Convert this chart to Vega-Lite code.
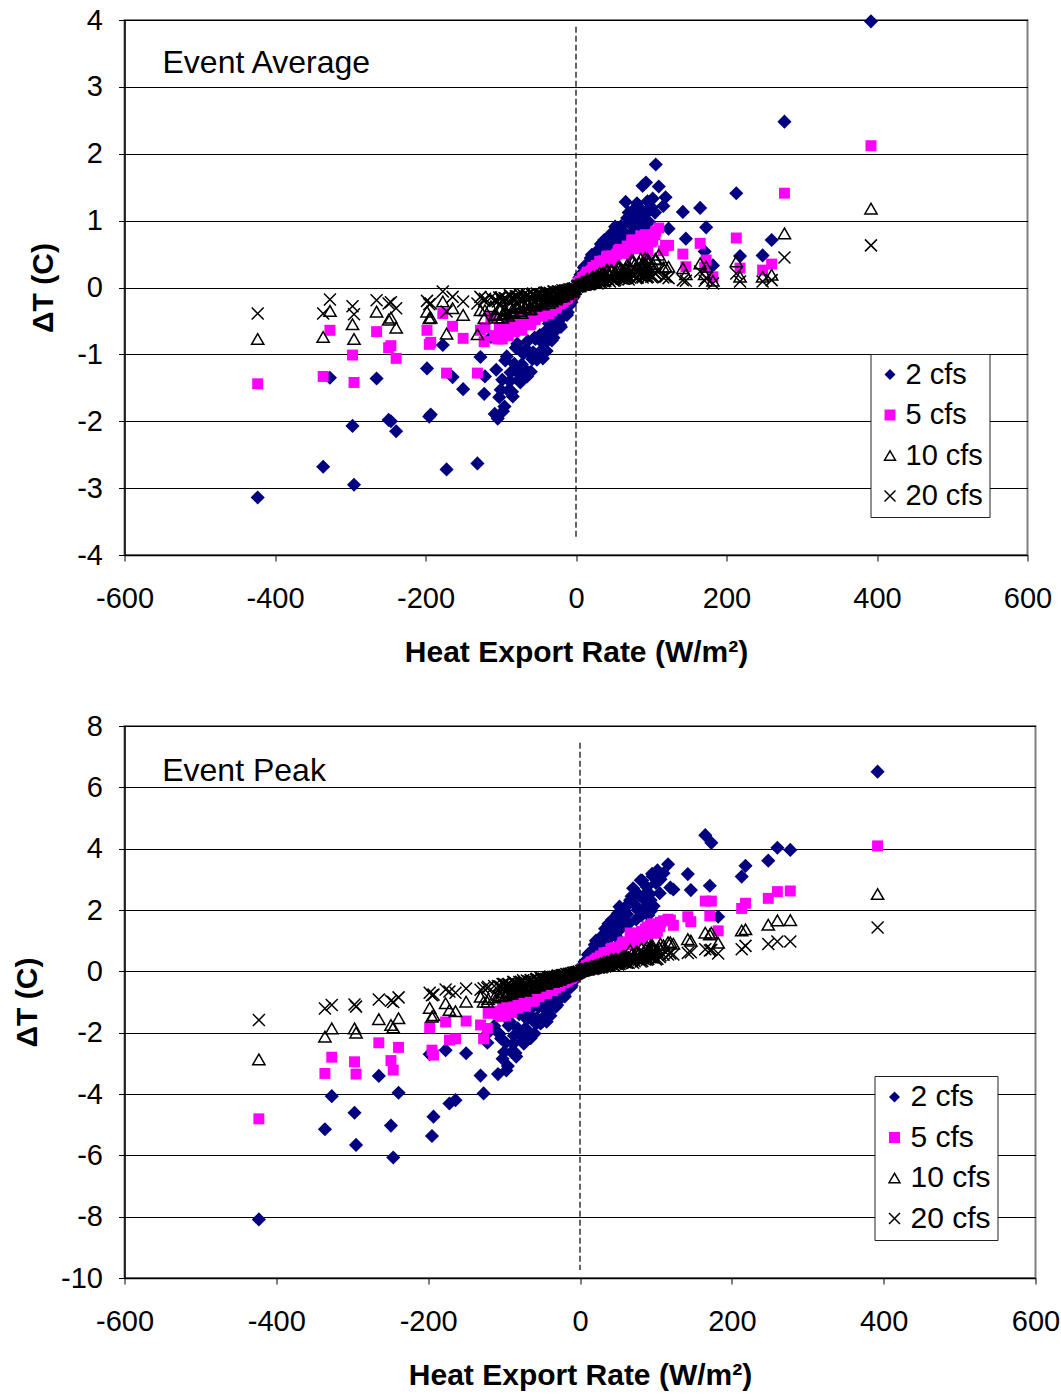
{
"$schema":"https://vega.github.io/schema/vega-lite/v6.json",
"background":"white",
"padding":{"left":11.5,"top":5,"right":0,"bottom":0},
"spacing":43,
"config":{
"font":"Liberation Sans",
"view":{"stroke":"#808080","strokeWidth":2},
"axis":{"labelFont":"Liberation Sans","titleFont":"Liberation Sans","labelFontSize":29,"labelColor":"#000","titleFontSize":30,"titleFontWeight":"bold","titleColor":"#000","domainColor":"#000","domainWidth":1.5,"tickColor":"#000","tickSize":6,"gridColor":"#000","gridWidth":1,"gridOpacity":1,"labelOverlap":false},
"axisX":{"labelPadding":23,"titlePadding":24,"labelFlush":false},
"axisY":{"labelPadding":16,"titlePadding":18},
"legend":{"labelFont":"Liberation Sans","labelColor":"#000","symbolStrokeWidth":1.5,"strokeColor":"#222","fillColor":"white","padding":6,"rowPadding":10.5,"labelOffset":1,"symbolOffset":-1,"symbolSize":120}
},
"datasets":{
"avg":[
{"s":2,"x":-423,"y":-3.14},{"s":5,"x":-423,"y":-1.44},{"s":10,"x":-423,"y":-0.77},{"s":20,"x":-423,"y":-0.39},
{"s":2,"x":-336,"y":-2.68},{"s":5,"x":-336,"y":-1.33},{"s":10,"x":-336,"y":-0.74},{"s":20,"x":-336,"y":-0.39},
{"s":2,"x":-327,"y":-1.35},{"s":5,"x":-327,"y":-0.64},{"s":10,"x":-327,"y":-0.35},{"s":20,"x":-327,"y":-0.18},
{"s":2,"x":-297,"y":-2.07},{"s":5,"x":-297,"y":-1.01},{"s":10,"x":-297,"y":-0.55},{"s":20,"x":-297,"y":-0.28},
{"s":2,"x":-295,"y":-2.95},{"s":5,"x":-295,"y":-1.42},{"s":10,"x":-295,"y":-0.77},{"s":20,"x":-295,"y":-0.40},
{"s":2,"x":-265,"y":-1.36},{"s":5,"x":-265,"y":-0.66},{"s":10,"x":-265,"y":-0.36},{"s":20,"x":-265,"y":-0.19},
{"s":2,"x":-249,"y":-1.98},{"s":5,"x":-249,"y":-0.90},{"s":10,"x":-249,"y":-0.48},{"s":20,"x":-249,"y":-0.24},
{"s":2,"x":-246,"y":-2.00},{"s":5,"x":-246,"y":-0.87},{"s":10,"x":-246,"y":-0.45},{"s":20,"x":-246,"y":-0.22},
{"s":2,"x":-239,"y":-2.15},{"s":5,"x":-239,"y":-1.06},{"s":10,"x":-239,"y":-0.60},{"s":20,"x":-239,"y":-0.31},
{"s":2,"x":-198,"y":-1.21},{"s":5,"x":-198,"y":-0.64},{"s":10,"x":-198,"y":-0.36},{"s":20,"x":-198,"y":-0.20},
{"s":2,"x":-195,"y":-1.93},{"s":5,"x":-195,"y":-0.85},{"s":10,"x":-195,"y":-0.46},{"s":20,"x":-195,"y":-0.25},
{"s":2,"x":-193,"y":-1.90},{"s":5,"x":-193,"y":-0.82},{"s":10,"x":-193,"y":-0.45},{"s":20,"x":-193,"y":-0.24},
{"s":2,"x":-177,"y":-0.86},{"s":5,"x":-177,"y":-0.39},{"s":10,"x":-177,"y":-0.21},{"s":20,"x":-177,"y":-0.06},
{"s":2,"x":-172,"y":-2.72},{"s":5,"x":-172,"y":-1.28},{"s":10,"x":-172,"y":-0.69},{"s":20,"x":-172,"y":-0.36},
{"s":2,"x":-164,"y":-1.34},{"s":5,"x":-164,"y":-0.58},{"s":10,"x":-164,"y":-0.31},{"s":20,"x":-164,"y":-0.14},
{"s":2,"x":-150,"y":-1.52},{"s":5,"x":-150,"y":-0.76},{"s":10,"x":-150,"y":-0.41},{"s":20,"x":-150,"y":-0.21},
{"s":2,"x":-131,"y":-2.63},{"s":5,"x":-131,"y":-1.28},{"s":10,"x":-131,"y":-0.70},{"s":20,"x":-131,"y":-0.24},
{"s":2,"x":-127,"y":-1.04},{"s":5,"x":-127,"y":-0.64},{"s":10,"x":-127,"y":-0.34},{"s":20,"x":-127,"y":-0.14},
{"s":2,"x":-122,"y":-1.59},{"s":5,"x":-122,"y":-0.81},{"s":10,"x":-122,"y":-0.46},{"s":20,"x":-122,"y":-0.20},
{"s":2,"x":-121,"y":-1.33},{"s":5,"x":-121,"y":-0.60},{"s":10,"x":-121,"y":-0.34},{"s":20,"x":-121,"y":-0.17},
{"s":2,"x":-113,"y":-0.74},{"s":5,"x":-113,"y":-0.45},{"s":10,"x":-113,"y":-0.28},{"s":20,"x":-113,"y":-0.15},
{"s":2,"x":-108,"y":-1.89},{"s":5,"x":-108,"y":-0.72},{"s":10,"x":-108,"y":-0.40},{"s":20,"x":-108,"y":-0.19},
{"s":2,"x":-106,"y":-1.23},{"s":5,"x":-106,"y":-0.73},{"s":10,"x":-106,"y":-0.41},{"s":20,"x":-106,"y":-0.19},
{"s":2,"x":-104,"y":-1.96},{"s":5,"x":-104,"y":-0.77},{"s":10,"x":-104,"y":-0.45},{"s":20,"x":-104,"y":-0.21},
{"s":2,"x":-102,"y":-1.64},{"s":5,"x":-102,"y":-0.61},{"s":10,"x":-102,"y":-0.32},{"s":20,"x":-102,"y":-0.15},
{"s":2,"x":-100,"y":-1.53},{"s":5,"x":-100,"y":-0.60},{"s":10,"x":-100,"y":-0.32},{"s":20,"x":-100,"y":-0.15},
{"s":2,"x":-98,"y":-1.38},{"s":5,"x":-98,"y":-0.77},{"s":10,"x":-98,"y":-0.45},{"s":20,"x":-98,"y":-0.21},
{"s":2,"x":-97,"y":-1.85},{"s":5,"x":-97,"y":-0.69},{"s":10,"x":-97,"y":-0.39},{"s":20,"x":-97,"y":-0.18},
{"s":2,"x":-95,"y":-1.78},{"s":5,"x":-95,"y":-0.63},{"s":10,"x":-95,"y":-0.35},{"s":20,"x":-95,"y":-0.16},
{"s":2,"x":-94,"y":-1.09},{"s":5,"x":-94,"y":-0.63},{"s":10,"x":-94,"y":-0.34},{"s":20,"x":-94,"y":-0.16},
{"s":2,"x":-92,"y":-1.03},{"s":5,"x":-92,"y":-0.69},{"s":10,"x":-92,"y":-0.39},{"s":20,"x":-92,"y":-0.18},
{"s":2,"x":-90,"y":-1.54},{"s":5,"x":-90,"y":-0.72},{"s":10,"x":-90,"y":-0.42},{"s":20,"x":-90,"y":-0.20},
{"s":2,"x":-88,"y":-1.40},{"s":5,"x":-88,"y":-0.53},{"s":10,"x":-88,"y":-0.27},{"s":20,"x":-88,"y":-0.12},
{"s":2,"x":-87,"y":-1.27},{"s":5,"x":-87,"y":-0.52},{"s":10,"x":-87,"y":-0.27},{"s":20,"x":-87,"y":-0.12},
{"s":2,"x":-85,"y":-1.56},{"s":5,"x":-85,"y":-0.60},{"s":10,"x":-85,"y":-0.34},{"s":20,"x":-85,"y":-0.16},
{"s":2,"x":-84,"y":-1.63},{"s":5,"x":-84,"y":-0.64},{"s":10,"x":-84,"y":-0.37},{"s":20,"x":-84,"y":-0.17},
{"s":2,"x":-82,"y":-1.14},{"s":5,"x":-82,"y":-0.66},{"s":10,"x":-82,"y":-0.38},{"s":20,"x":-82,"y":-0.18},
{"s":2,"x":-80,"y":-0.90},{"s":5,"x":-80,"y":-0.54},{"s":10,"x":-80,"y":-0.29},{"s":20,"x":-80,"y":-0.13},
{"s":2,"x":-78,"y":-0.84},{"s":5,"x":-78,"y":-0.53},{"s":10,"x":-78,"y":-0.28},{"s":20,"x":-78,"y":-0.13},
{"s":2,"x":-77,"y":-1.27},{"s":5,"x":-77,"y":-0.56},{"s":10,"x":-77,"y":-0.31},{"s":20,"x":-77,"y":-0.15},
{"s":2,"x":-75,"y":-1.36},{"s":5,"x":-75,"y":-0.45},{"s":10,"x":-75,"y":-0.23},{"s":20,"x":-75,"y":-0.10},
{"s":2,"x":-74,"y":-1.42},{"s":5,"x":-74,"y":-0.61},{"s":10,"x":-74,"y":-0.35},{"s":20,"x":-74,"y":-0.17},
{"s":2,"x":-72,"y":-1.15},{"s":5,"x":-72,"y":-0.64},{"s":10,"x":-72,"y":-0.38},{"s":20,"x":-72,"y":-0.18},
{"s":2,"x":-70,"y":-0.99},{"s":5,"x":-70,"y":-0.47},{"s":10,"x":-70,"y":-0.25},{"s":20,"x":-70,"y":-0.11},
{"s":2,"x":-68,"y":-0.94},{"s":5,"x":-68,"y":-0.54},{"s":10,"x":-68,"y":-0.30},{"s":20,"x":-68,"y":-0.14},
{"s":2,"x":-67,"y":-1.23},{"s":5,"x":-67,"y":-0.53},{"s":10,"x":-67,"y":-0.30},{"s":20,"x":-67,"y":-0.14},
{"s":2,"x":-65,"y":-1.33},{"s":5,"x":-65,"y":-0.45},{"s":10,"x":-65,"y":-0.23},{"s":20,"x":-65,"y":-0.11},
{"s":2,"x":-64,"y":-0.80},{"s":5,"x":-64,"y":-0.48},{"s":10,"x":-64,"y":-0.26},{"s":20,"x":-64,"y":-0.12},
{"s":2,"x":-62,"y":-0.97},{"s":5,"x":-62,"y":-0.56},{"s":10,"x":-62,"y":-0.33},{"s":20,"x":-62,"y":-0.15},
{"s":2,"x":-60,"y":-1.26},{"s":5,"x":-60,"y":-0.55},{"s":10,"x":-60,"y":-0.32},{"s":20,"x":-60,"y":-0.15},
{"s":2,"x":-58,"y":-1.07},{"s":5,"x":-58,"y":-0.44},{"s":10,"x":-58,"y":-0.24},{"s":20,"x":-58,"y":-0.11},
{"s":2,"x":-57,"y":-0.97},{"s":5,"x":-57,"y":-0.39},{"s":10,"x":-57,"y":-0.20},{"s":20,"x":-57,"y":-0.09},
{"s":2,"x":-55,"y":-0.75},{"s":5,"x":-55,"y":-0.48},{"s":10,"x":-55,"y":-0.27},{"s":20,"x":-55,"y":-0.13},
{"s":2,"x":-54,"y":-0.77},{"s":5,"x":-54,"y":-0.47},{"s":10,"x":-54,"y":-0.27},{"s":20,"x":-54,"y":-0.13},
{"s":2,"x":-52,"y":-1.08},{"s":5,"x":-52,"y":-0.37},{"s":10,"x":-52,"y":-0.19},{"s":20,"x":-52,"y":-0.09},
{"s":2,"x":-50,"y":-1.05},{"s":5,"x":-50,"y":-0.39},{"s":10,"x":-50,"y":-0.21},{"s":20,"x":-50,"y":-0.10},
{"s":2,"x":-48,"y":-0.71},{"s":5,"x":-48,"y":-0.41},{"s":10,"x":-48,"y":-0.23},{"s":20,"x":-48,"y":-0.11},
{"s":2,"x":-47,"y":-0.80},{"s":5,"x":-47,"y":-0.40},{"s":10,"x":-47,"y":-0.22},{"s":20,"x":-47,"y":-0.10},
{"s":2,"x":-45,"y":-0.93},{"s":5,"x":-45,"y":-0.43},{"s":10,"x":-45,"y":-0.25},{"s":20,"x":-45,"y":-0.12},
{"s":2,"x":-44,"y":-1.06},{"s":5,"x":-44,"y":-0.42},{"s":10,"x":-44,"y":-0.25},{"s":20,"x":-44,"y":-0.12},
{"s":2,"x":-42,"y":-0.76},{"s":5,"x":-42,"y":-0.34},{"s":10,"x":-42,"y":-0.18},{"s":20,"x":-42,"y":-0.08},
{"s":2,"x":-41,"y":-0.66},{"s":5,"x":-41,"y":-0.32},{"s":10,"x":-41,"y":-0.17},{"s":20,"x":-41,"y":-0.08},
{"s":2,"x":-39,"y":-0.95},{"s":5,"x":-39,"y":-0.29},{"s":10,"x":-39,"y":-0.14},{"s":20,"x":-39,"y":-0.07},
{"s":2,"x":-38,"y":-0.80},{"s":5,"x":-38,"y":-0.36},{"s":10,"x":-38,"y":-0.20},{"s":20,"x":-38,"y":-0.09},
{"s":2,"x":-36,"y":-0.54},{"s":5,"x":-36,"y":-0.39},{"s":10,"x":-36,"y":-0.23},{"s":20,"x":-36,"y":-0.11},
{"s":2,"x":-35,"y":-0.50},{"s":5,"x":-35,"y":-0.31},{"s":10,"x":-35,"y":-0.17},{"s":20,"x":-35,"y":-0.08},
{"s":2,"x":-33,"y":-0.71},{"s":5,"x":-33,"y":-0.32},{"s":10,"x":-33,"y":-0.18},{"s":20,"x":-33,"y":-0.09},
{"s":2,"x":-32,"y":-0.79},{"s":5,"x":-32,"y":-0.35},{"s":10,"x":-32,"y":-0.21},{"s":20,"x":-32,"y":-0.10},
{"s":2,"x":-30,"y":-0.75},{"s":5,"x":-30,"y":-0.26},{"s":10,"x":-30,"y":-0.14},{"s":20,"x":-30,"y":-0.06},
{"s":2,"x":-29,"y":-0.57},{"s":5,"x":-29,"y":-0.24},{"s":10,"x":-29,"y":-0.13},{"s":20,"x":-29,"y":-0.06},
{"s":2,"x":-27,"y":-0.52},{"s":5,"x":-27,"y":-0.31},{"s":10,"x":-27,"y":-0.18},{"s":20,"x":-27,"y":-0.09},
{"s":2,"x":-26,"y":-0.63},{"s":5,"x":-26,"y":-0.28},{"s":10,"x":-26,"y":-0.16},{"s":20,"x":-26,"y":-0.08},
{"s":2,"x":-24,"y":-0.37},{"s":5,"x":-24,"y":-0.24},{"s":10,"x":-24,"y":-0.13},{"s":20,"x":-24,"y":-0.06},
{"s":2,"x":-23,"y":-0.42},{"s":5,"x":-23,"y":-0.23},{"s":10,"x":-23,"y":-0.12},{"s":20,"x":-23,"y":-0.06},
{"s":2,"x":-21,"y":-0.56},{"s":5,"x":-21,"y":-0.24},{"s":10,"x":-21,"y":-0.14},{"s":20,"x":-21,"y":-0.07},
{"s":2,"x":-20,"y":-0.59},{"s":5,"x":-20,"y":-0.22},{"s":10,"x":-20,"y":-0.12},{"s":20,"x":-20,"y":-0.06},
{"s":2,"x":-18,"y":-0.44},{"s":5,"x":-18,"y":-0.17},{"s":10,"x":-18,"y":-0.09},{"s":20,"x":-18,"y":-0.04},
{"s":2,"x":-17,"y":-0.42},{"s":5,"x":-17,"y":-0.22},{"s":10,"x":-17,"y":-0.13},{"s":20,"x":-17,"y":-0.06},
{"s":2,"x":-15,"y":-0.33},{"s":5,"x":-15,"y":-0.18},{"s":10,"x":-15,"y":-0.10},{"s":20,"x":-15,"y":-0.05},
{"s":2,"x":-14,"y":-0.32},{"s":5,"x":-14,"y":-0.15},{"s":10,"x":-14,"y":-0.08},{"s":20,"x":-14,"y":-0.04},
{"s":2,"x":-12,"y":-0.41},{"s":5,"x":-12,"y":-0.17},{"s":10,"x":-12,"y":-0.10},{"s":20,"x":-12,"y":-0.05},
{"s":2,"x":-11,"y":-0.37},{"s":5,"x":-11,"y":-0.15},{"s":10,"x":-11,"y":-0.09},{"s":20,"x":-11,"y":-0.04},
{"s":2,"x":-9,"y":-0.25},{"s":5,"x":-9,"y":-0.12},{"s":10,"x":-9,"y":-0.06},{"s":20,"x":-9,"y":-0.03},
{"s":2,"x":-8,"y":-0.26},{"s":5,"x":-8,"y":-0.11},{"s":10,"x":-8,"y":-0.06},{"s":20,"x":-8,"y":-0.03},
{"s":2,"x":-6,"y":-0.22},{"s":5,"x":-6,"y":-0.10},{"s":10,"x":-6,"y":-0.06},{"s":20,"x":-6,"y":-0.03},
{"s":2,"x":-5,"y":-0.17},{"s":5,"x":-5,"y":-0.10},{"s":10,"x":-5,"y":-0.06},{"s":20,"x":-5,"y":-0.03},
{"s":2,"x":-4,"y":-0.12},{"s":5,"x":-4,"y":-0.06},{"s":10,"x":-4,"y":-0.03},{"s":20,"x":-4,"y":-0.02},
{"s":2,"x":-3,"y":-0.14},{"s":5,"x":-3,"y":-0.06},{"s":10,"x":-3,"y":-0.03},{"s":20,"x":-3,"y":-0.02},
{"s":2,"x":-1.5,"y":-0.09},{"s":5,"x":-1.5,"y":-0.04},{"s":10,"x":-1.5,"y":-0.02},{"s":20,"x":-1.5,"y":-0.01},
{"s":2,"x":1.5,"y":0.05},{"s":5,"x":1.5,"y":0.04},{"s":10,"x":1.5,"y":0.02},{"s":20,"x":1.5,"y":0.01},
{"s":2,"x":3,"y":0.11},{"s":5,"x":3,"y":0.07},{"s":10,"x":3,"y":0.04},{"s":20,"x":3,"y":0.02},
{"s":2,"x":4.5,"y":0.15},{"s":5,"x":4.5,"y":0.08},{"s":10,"x":4.5,"y":0.04},{"s":20,"x":4.5,"y":0.02},
{"s":2,"x":6,"y":0.19},{"s":5,"x":6,"y":0.10},{"s":10,"x":6,"y":0.05},{"s":20,"x":6,"y":0.02},
{"s":2,"x":7.5,"y":0.19},{"s":5,"x":7.5,"y":0.14},{"s":10,"x":7.5,"y":0.08},{"s":20,"x":7.5,"y":0.04},
{"s":2,"x":9,"y":0.21},{"s":5,"x":9,"y":0.15},{"s":10,"x":9,"y":0.08},{"s":20,"x":9,"y":0.04},
{"s":2,"x":10.5,"y":0.30},{"s":5,"x":10.5,"y":0.15},{"s":10,"x":10.5,"y":0.08},{"s":20,"x":10.5,"y":0.04},
{"s":2,"x":12,"y":0.32},{"s":5,"x":12,"y":0.17},{"s":10,"x":12,"y":0.09},{"s":20,"x":12,"y":0.04},
{"s":2,"x":13.5,"y":0.25},{"s":5,"x":13.5,"y":0.20},{"s":10,"x":13.5,"y":0.11},{"s":20,"x":13.5,"y":0.05},
{"s":2,"x":15,"y":0.28},{"s":5,"x":15,"y":0.23},{"s":10,"x":15,"y":0.13},{"s":20,"x":15,"y":0.06},
{"s":2,"x":16.5,"y":0.36},{"s":5,"x":16.5,"y":0.19},{"s":10,"x":16.5,"y":0.09},{"s":20,"x":16.5,"y":0.05},
{"s":2,"x":18,"y":0.38},{"s":5,"x":18,"y":0.20},{"s":10,"x":18,"y":0.10},{"s":20,"x":18,"y":0.05},
{"s":2,"x":19.5,"y":0.44},{"s":5,"x":19.5,"y":0.24},{"s":10,"x":19.5,"y":0.13},{"s":20,"x":19.5,"y":0.06},
{"s":2,"x":21,"y":0.49},{"s":5,"x":21,"y":0.26},{"s":10,"x":21,"y":0.14},{"s":20,"x":21,"y":0.07},
{"s":2,"x":22.5,"y":0.40},{"s":5,"x":22.5,"y":0.30},{"s":10,"x":22.5,"y":0.16},{"s":20,"x":22.5,"y":0.08},
{"s":2,"x":24,"y":0.43},{"s":5,"x":24,"y":0.27},{"s":10,"x":24,"y":0.13},{"s":20,"x":24,"y":0.07},
{"s":2,"x":25.5,"y":0.37},{"s":5,"x":25.5,"y":0.28},{"s":10,"x":25.5,"y":0.14},{"s":20,"x":25.5,"y":0.07},
{"s":2,"x":27,"y":0.53},{"s":5,"x":27,"y":0.33},{"s":10,"x":27,"y":0.18},{"s":20,"x":27,"y":0.09},
{"s":2,"x":28.5,"y":0.55},{"s":5,"x":28.5,"y":0.27},{"s":10,"x":28.5,"y":0.12},{"s":20,"x":28.5,"y":0.06},
{"s":2,"x":30,"y":0.43},{"s":5,"x":30,"y":0.33},{"s":10,"x":30,"y":0.17},{"s":20,"x":30,"y":0.09},
{"s":2,"x":31.5,"y":0.54},{"s":5,"x":31.5,"y":0.39},{"s":10,"x":31.5,"y":0.22},{"s":20,"x":31.5,"y":0.11},
{"s":2,"x":33,"y":0.65},{"s":5,"x":33,"y":0.32},{"s":10,"x":33,"y":0.16},{"s":20,"x":33,"y":0.08},
{"s":2,"x":34.5,"y":0.51},{"s":5,"x":34.5,"y":0.37},{"s":10,"x":34.5,"y":0.20},{"s":20,"x":34.5,"y":0.10},
{"s":2,"x":36,"y":0.59},{"s":5,"x":36,"y":0.40},{"s":10,"x":36,"y":0.22},{"s":20,"x":36,"y":0.11},
{"s":2,"x":37.5,"y":0.71},{"s":5,"x":37.5,"y":0.35},{"s":10,"x":37.5,"y":0.17},{"s":20,"x":37.5,"y":0.09},
{"s":2,"x":39,"y":0.56},{"s":5,"x":39,"y":0.38},{"s":10,"x":39,"y":0.20},{"s":20,"x":39,"y":0.10},
{"s":2,"x":40.5,"y":0.62},{"s":5,"x":40.5,"y":0.46},{"s":10,"x":40.5,"y":0.26},{"s":20,"x":40.5,"y":0.13},
{"s":2,"x":42,"y":0.75},{"s":5,"x":42,"y":0.47},{"s":10,"x":42,"y":0.26},{"s":20,"x":42,"y":0.13},
{"s":2,"x":43.5,"y":0.71},{"s":5,"x":43.5,"y":0.41},{"s":10,"x":43.5,"y":0.21},{"s":20,"x":43.5,"y":0.11},
{"s":2,"x":45,"y":0.72},{"s":5,"x":45,"y":0.39},{"s":10,"x":45,"y":0.18},{"s":20,"x":45,"y":0.09},
{"s":2,"x":46.5,"y":0.60},{"s":5,"x":46.5,"y":0.47},{"s":10,"x":46.5,"y":0.26},{"s":20,"x":46.5,"y":0.13},
{"s":2,"x":48,"y":0.59},{"s":5,"x":48,"y":0.47},{"s":10,"x":48,"y":0.25},{"s":20,"x":48,"y":0.13},
{"s":2,"x":50,"y":0.84},{"s":5,"x":50,"y":0.42},{"s":10,"x":50,"y":0.20},{"s":20,"x":50,"y":0.10},
{"s":2,"x":52,"y":0.91},{"s":5,"x":52,"y":0.46},{"s":10,"x":52,"y":0.23},{"s":20,"x":52,"y":0.11},
{"s":2,"x":54,"y":0.68},{"s":5,"x":54,"y":0.50},{"s":10,"x":54,"y":0.26},{"s":20,"x":54,"y":0.13},
{"s":2,"x":56,"y":0.77},{"s":5,"x":56,"y":0.55},{"s":10,"x":56,"y":0.31},{"s":20,"x":56,"y":0.15},
{"s":2,"x":58,"y":0.89},{"s":5,"x":58,"y":0.57},{"s":10,"x":58,"y":0.31},{"s":20,"x":58,"y":0.16},
{"s":2,"x":60,"y":0.92},{"s":5,"x":60,"y":0.54},{"s":10,"x":60,"y":0.28},{"s":20,"x":60,"y":0.14},
{"s":2,"x":62,"y":0.85},{"s":5,"x":62,"y":0.52},{"s":10,"x":62,"y":0.26},{"s":20,"x":62,"y":0.13},
{"s":2,"x":64,"y":0.75},{"s":5,"x":64,"y":0.51},{"s":10,"x":64,"y":0.25},{"s":20,"x":64,"y":0.13},
{"s":2,"x":68,"y":1.04},{"s":5,"x":68,"y":0.62},{"s":10,"x":68,"y":0.34},{"s":20,"x":68,"y":0.17},
{"s":2,"x":70,"y":1.12},{"s":5,"x":70,"y":0.51},{"s":10,"x":70,"y":0.24},{"s":20,"x":70,"y":0.12},
{"s":2,"x":72,"y":0.96},{"s":5,"x":72,"y":0.59},{"s":10,"x":72,"y":0.30},{"s":20,"x":72,"y":0.15},
{"s":2,"x":74,"y":0.81},{"s":5,"x":74,"y":0.71},{"s":10,"x":74,"y":0.41},{"s":20,"x":74,"y":0.20},
{"s":2,"x":76,"y":0.91},{"s":5,"x":76,"y":0.71},{"s":10,"x":76,"y":0.40},{"s":20,"x":76,"y":0.20},
{"s":2,"x":78,"y":1.06},{"s":5,"x":78,"y":0.66},{"s":10,"x":78,"y":0.35},{"s":20,"x":78,"y":0.18},
{"s":2,"x":80,"y":1.20},{"s":5,"x":80,"y":0.58},{"s":10,"x":80,"y":0.28},{"s":20,"x":80,"y":0.14},
{"s":2,"x":82,"y":1.20},{"s":5,"x":82,"y":0.61},{"s":10,"x":82,"y":0.30},{"s":20,"x":82,"y":0.15},
{"s":2,"x":84,"y":0.93},{"s":5,"x":84,"y":0.70},{"s":10,"x":84,"y":0.37},{"s":20,"x":84,"y":0.19},
{"s":2,"x":86,"y":1.02},{"s":5,"x":86,"y":0.77},{"s":10,"x":86,"y":0.43},{"s":20,"x":86,"y":0.22},
{"s":2,"x":88,"y":1.15},{"s":5,"x":88,"y":0.66},{"s":10,"x":88,"y":0.33},{"s":20,"x":88,"y":0.17},
{"s":2,"x":90,"y":0.89},{"s":5,"x":90,"y":0.69},{"s":10,"x":90,"y":0.35},{"s":20,"x":90,"y":0.18},
{"s":2,"x":92,"y":1.09},{"s":5,"x":92,"y":0.79},{"s":10,"x":92,"y":0.44},{"s":20,"x":92,"y":0.22},
{"s":2,"x":95,"y":1.29},{"s":5,"x":95,"y":0.78},{"s":10,"x":95,"y":0.43},{"s":20,"x":95,"y":0.21},
{"s":2,"x":97,"y":0.98},{"s":5,"x":97,"y":0.75},{"s":10,"x":97,"y":0.39},{"s":20,"x":97,"y":0.20},
{"s":2,"x":100,"y":1.20},{"s":5,"x":100,"y":0.68},{"s":10,"x":100,"y":0.32},{"s":20,"x":100,"y":0.16},
{"s":2,"x":102,"y":1.33},{"s":5,"x":102,"y":0.71},{"s":10,"x":102,"y":0.35},{"s":20,"x":102,"y":0.17},
{"s":2,"x":105,"y":1.12},{"s":5,"x":105,"y":0.79},{"s":10,"x":105,"y":0.42},{"s":20,"x":105,"y":0.21},
{"s":2,"x":110,"y":1.51},{"s":5,"x":110,"y":0.89},{"s":10,"x":110,"y":0.49},{"s":20,"x":110,"y":0.25},
{"s":2,"x":94,"y":0.96},{"s":5,"x":94,"y":0.50},{"s":10,"x":94,"y":0.28},{"s":20,"x":94,"y":0.15},
{"s":2,"x":66,"y":1.28},{"s":5,"x":66,"y":0.56},{"s":10,"x":66,"y":0.28},{"s":20,"x":66,"y":0.14},
{"s":2,"x":81,"y":1.26},{"s":5,"x":81,"y":0.61},{"s":10,"x":81,"y":0.30},{"s":20,"x":81,"y":0.15},
{"s":2,"x":88.5,"y":1.52},{"s":5,"x":88.5,"y":0.60},{"s":10,"x":88.5,"y":0.30},{"s":20,"x":88.5,"y":0.15},
{"s":2,"x":93,"y":1.57},{"s":5,"x":93,"y":0.74},{"s":10,"x":93,"y":0.35},{"s":20,"x":93,"y":0.18},
{"s":2,"x":95.5,"y":1.16},{"s":5,"x":95.5,"y":0.55},{"s":10,"x":95.5,"y":0.30},{"s":20,"x":95.5,"y":0.16},
{"s":2,"x":106,"y":1.84},{"s":5,"x":106,"y":0.84},{"s":10,"x":106,"y":0.43},{"s":20,"x":106,"y":0.21},
{"s":2,"x":116,"y":1.22},{"s":5,"x":116,"y":0.55},{"s":10,"x":116,"y":0.30},{"s":20,"x":116,"y":0.15},
{"s":2,"x":119,"y":1.35},{"s":5,"x":119,"y":0.63},{"s":10,"x":119,"y":0.31},{"s":20,"x":119,"y":0.16},
{"s":2,"x":123,"y":0.88},{"s":5,"x":123,"y":0.63},{"s":10,"x":123,"y":0.31},{"s":20,"x":123,"y":0.14},
{"s":2,"x":142,"y":1.13},{"s":5,"x":142,"y":0.50},{"s":10,"x":142,"y":0.29},{"s":20,"x":142,"y":0.11},
{"s":2,"x":146,"y":0.73},{"s":5,"x":146,"y":0.31},{"s":10,"x":146,"y":0.20},{"s":20,"x":146,"y":0.10},
{"s":2,"x":165,"y":1.19},{"s":5,"x":165,"y":0.66},{"s":10,"x":165,"y":0.36},{"s":20,"x":165,"y":0.24},
{"s":2,"x":171,"y":0.54},{"s":5,"x":171,"y":0.30},{"s":10,"x":171,"y":0.20},{"s":20,"x":171,"y":0.10},
{"s":2,"x":173,"y":0.90},{"s":5,"x":173,"y":0.41},{"s":10,"x":173,"y":0.31},{"s":20,"x":173,"y":0.14},
{"s":2,"x":182,"y":0.33},{"s":5,"x":182,"y":0.16},{"s":10,"x":182,"y":0.10},{"s":20,"x":182,"y":0.06},
{"s":2,"x":213,"y":1.41},{"s":5,"x":213,"y":0.74},{"s":10,"x":213,"y":0.39},{"s":20,"x":213,"y":0.21},
{"s":2,"x":218,"y":0.47},{"s":5,"x":218,"y":0.29},{"s":10,"x":218,"y":0.16},{"s":20,"x":218,"y":0.09},
{"s":2,"x":248,"y":0.48},{"s":5,"x":248,"y":0.26},{"s":10,"x":248,"y":0.16},{"s":20,"x":248,"y":0.09},
{"s":2,"x":260,"y":0.71},{"s":5,"x":260,"y":0.35},{"s":10,"x":260,"y":0.19},{"s":20,"x":260,"y":0.11},
{"s":2,"x":277,"y":2.48},{"s":5,"x":277,"y":1.41},{"s":10,"x":277,"y":0.81},{"s":20,"x":277,"y":0.45},
{"s":2,"x":392,"y":3.98},{"s":5,"x":392,"y":2.12},{"s":10,"x":392,"y":1.18},{"s":20,"x":392,"y":0.63}
],
"peak":[
{"s":2,"x":-423,"y":-8.09},{"s":5,"x":-423,"y":-4.81},{"s":10,"x":-423,"y":-2.87},{"s":20,"x":-423,"y":-1.59},
{"s":2,"x":-336,"y":-5.15},{"s":5,"x":-336,"y":-3.33},{"s":10,"x":-336,"y":-2.13},{"s":20,"x":-336,"y":-1.21},
{"s":2,"x":-327,"y":-4.07},{"s":5,"x":-327,"y":-2.80},{"s":10,"x":-327,"y":-1.86},{"s":20,"x":-327,"y":-1.10},
{"s":2,"x":-297,"y":-4.61},{"s":5,"x":-297,"y":-2.95},{"s":10,"x":-297,"y":-1.86},{"s":20,"x":-297,"y":-1.08},
{"s":2,"x":-295,"y":-5.66},{"s":5,"x":-295,"y":-3.35},{"s":10,"x":-295,"y":-2.00},{"s":20,"x":-295,"y":-1.15},
{"s":2,"x":-265,"y":-3.41},{"s":5,"x":-265,"y":-2.33},{"s":10,"x":-265,"y":-1.56},{"s":20,"x":-265,"y":-0.92},
{"s":2,"x":-249,"y":-5.03},{"s":5,"x":-249,"y":-2.91},{"s":10,"x":-249,"y":-1.75},{"s":20,"x":-249,"y":-0.96},
{"s":2,"x":-246,"y":-6.07},{"s":5,"x":-246,"y":-3.22},{"s":10,"x":-246,"y":-1.83},{"s":20,"x":-246,"y":-1.00},
{"s":2,"x":-239,"y":-3.96},{"s":5,"x":-239,"y":-2.48},{"s":10,"x":-239,"y":-1.53},{"s":20,"x":-239,"y":-0.85},
{"s":2,"x":-198,"y":-2.70},{"s":5,"x":-198,"y":-1.83},{"s":10,"x":-198,"y":-1.19},{"s":20,"x":-198,"y":-0.70},
{"s":2,"x":-195,"y":-5.37},{"s":5,"x":-195,"y":-2.57},{"s":10,"x":-195,"y":-1.48},{"s":20,"x":-195,"y":-0.78},
{"s":2,"x":-193,"y":-4.74},{"s":5,"x":-193,"y":-2.73},{"s":10,"x":-193,"y":-1.43},{"s":20,"x":-193,"y":-0.76},
{"s":2,"x":-177,"y":-2.57},{"s":5,"x":-177,"y":-1.65},{"s":10,"x":-177,"y":-1.04},{"s":20,"x":-177,"y":-0.59},
{"s":2,"x":-172,"y":-4.31},{"s":5,"x":-172,"y":-2.24},{"s":10,"x":-172,"y":-1.26},{"s":20,"x":-172,"y":-0.66},
{"s":2,"x":-164,"y":-4.20},{"s":5,"x":-164,"y":-2.20},{"s":10,"x":-164,"y":-1.30},{"s":20,"x":-164,"y":-0.70},
{"s":2,"x":-150,"y":-2.67},{"s":5,"x":-150,"y":-1.62},{"s":10,"x":-150,"y":-0.99},{"s":20,"x":-150,"y":-0.56},
{"s":2,"x":-131,"y":-3.40},{"s":5,"x":-131,"y":-1.75},{"s":10,"x":-131,"y":-0.83},{"s":20,"x":-131,"y":-0.60},
{"s":2,"x":-127,"y":-3.98},{"s":5,"x":-127,"y":-2.20},{"s":10,"x":-127,"y":-0.99},{"s":20,"x":-127,"y":-0.55},
{"s":2,"x":-122,"y":-2.33},{"s":5,"x":-122,"y":-1.86},{"s":10,"x":-122,"y":-1.00},{"s":20,"x":-122,"y":-0.55},
{"s":2,"x":-121,"y":-2.00},{"s":5,"x":-121,"y":-1.37},{"s":10,"x":-121,"y":-0.90},{"s":20,"x":-121,"y":-0.50},
{"s":2,"x":-113,"y":-1.78},{"s":5,"x":-113,"y":-1.30},{"s":10,"x":-113,"y":-0.85},{"s":20,"x":-113,"y":-0.48},
{"s":2,"x":-108,"y":-3.35},{"s":5,"x":-108,"y":-1.39},{"s":10,"x":-108,"y":-0.78},{"s":20,"x":-108,"y":-0.48},
{"s":2,"x":-106,"y":-2.04},{"s":5,"x":-106,"y":-1.41},{"s":10,"x":-106,"y":-0.79},{"s":20,"x":-106,"y":-0.49},
{"s":2,"x":-104,"y":-2.19},{"s":5,"x":-104,"y":-1.47},{"s":10,"x":-104,"y":-0.81},{"s":20,"x":-104,"y":-0.51},
{"s":2,"x":-102,"y":-2.85},{"s":5,"x":-102,"y":-1.20},{"s":10,"x":-102,"y":-0.68},{"s":20,"x":-102,"y":-0.41},
{"s":2,"x":-100,"y":-2.63},{"s":5,"x":-100,"y":-1.18},{"s":10,"x":-100,"y":-0.67},{"s":20,"x":-100,"y":-0.41},
{"s":2,"x":-98,"y":-2.33},{"s":5,"x":-98,"y":-1.44},{"s":10,"x":-98,"y":-0.79},{"s":20,"x":-98,"y":-0.50},
{"s":2,"x":-97,"y":-3.23},{"s":5,"x":-97,"y":-1.31},{"s":10,"x":-97,"y":-0.73},{"s":20,"x":-97,"y":-0.45},
{"s":2,"x":-95,"y":-3.09},{"s":5,"x":-95,"y":-1.21},{"s":10,"x":-95,"y":-0.68},{"s":20,"x":-95,"y":-0.42},
{"s":2,"x":-94,"y":-1.77},{"s":5,"x":-94,"y":-1.20},{"s":10,"x":-94,"y":-0.67},{"s":20,"x":-94,"y":-0.41},
{"s":2,"x":-92,"y":-1.65},{"s":5,"x":-92,"y":-1.29},{"s":10,"x":-92,"y":-0.71},{"s":20,"x":-92,"y":-0.45},
{"s":2,"x":-90,"y":-2.63},{"s":5,"x":-90,"y":-1.34},{"s":10,"x":-90,"y":-0.74},{"s":20,"x":-90,"y":-0.47},
{"s":2,"x":-88,"y":-2.36},{"s":5,"x":-88,"y":-1.03},{"s":10,"x":-88,"y":-0.58},{"s":20,"x":-88,"y":-0.35},
{"s":2,"x":-87,"y":-2.10},{"s":5,"x":-87,"y":-1.01},{"s":10,"x":-87,"y":-0.57},{"s":20,"x":-87,"y":-0.35},
{"s":2,"x":-85,"y":-2.66},{"s":5,"x":-85,"y":-1.14},{"s":10,"x":-85,"y":-0.63},{"s":20,"x":-85,"y":-0.39},
{"s":2,"x":-84,"y":-2.78},{"s":5,"x":-84,"y":-1.19},{"s":10,"x":-84,"y":-0.66},{"s":20,"x":-84,"y":-0.41},
{"s":2,"x":-82,"y":-1.86},{"s":5,"x":-82,"y":-1.20},{"s":10,"x":-82,"y":-0.67},{"s":20,"x":-82,"y":-0.42},
{"s":2,"x":-80,"y":-1.40},{"s":5,"x":-80,"y":-1.01},{"s":10,"x":-80,"y":-0.57},{"s":20,"x":-80,"y":-0.35},
{"s":2,"x":-78,"y":-1.30},{"s":5,"x":-78,"y":-0.99},{"s":10,"x":-78,"y":-0.56},{"s":20,"x":-78,"y":-0.34},
{"s":2,"x":-77,"y":-2.10},{"s":5,"x":-77,"y":-1.04},{"s":10,"x":-77,"y":-0.58},{"s":20,"x":-77,"y":-0.36},
{"s":2,"x":-75,"y":-2.26},{"s":5,"x":-75,"y":-0.86},{"s":10,"x":-75,"y":-0.49},{"s":20,"x":-75,"y":-0.29},
{"s":2,"x":-74,"y":-2.36},{"s":5,"x":-74,"y":-1.10},{"s":10,"x":-74,"y":-0.61},{"s":20,"x":-74,"y":-0.38},
{"s":2,"x":-72,"y":-1.86},{"s":5,"x":-72,"y":-1.14},{"s":10,"x":-72,"y":-0.63},{"s":20,"x":-72,"y":-0.40},
{"s":2,"x":-70,"y":-1.56},{"s":5,"x":-70,"y":-0.87},{"s":10,"x":-70,"y":-0.49},{"s":20,"x":-70,"y":-0.30},
{"s":2,"x":-68,"y":-1.46},{"s":5,"x":-68,"y":-0.97},{"s":10,"x":-68,"y":-0.54},{"s":20,"x":-68,"y":-0.34},
{"s":2,"x":-67,"y":-1.99},{"s":5,"x":-67,"y":-0.96},{"s":10,"x":-67,"y":-0.53},{"s":20,"x":-67,"y":-0.33},
{"s":2,"x":-65,"y":-2.18},{"s":5,"x":-65,"y":-0.82},{"s":10,"x":-65,"y":-0.46},{"s":20,"x":-65,"y":-0.28},
{"s":2,"x":-64,"y":-1.21},{"s":5,"x":-64,"y":-0.86},{"s":10,"x":-64,"y":-0.48},{"s":20,"x":-64,"y":-0.30},
{"s":2,"x":-62,"y":-1.52},{"s":5,"x":-62,"y":-0.98},{"s":10,"x":-62,"y":-0.54},{"s":20,"x":-62,"y":-0.34},
{"s":2,"x":-60,"y":-2.03},{"s":5,"x":-60,"y":-0.95},{"s":10,"x":-60,"y":-0.52},{"s":20,"x":-60,"y":-0.33},
{"s":2,"x":-58,"y":-1.71},{"s":5,"x":-58,"y":-0.80},{"s":10,"x":-58,"y":-0.45},{"s":20,"x":-58,"y":-0.27},
{"s":2,"x":-57,"y":-1.52},{"s":5,"x":-57,"y":-0.71},{"s":10,"x":-57,"y":-0.40},{"s":20,"x":-57,"y":-0.24},
{"s":2,"x":-55,"y":-1.12},{"s":5,"x":-55,"y":-0.83},{"s":10,"x":-55,"y":-0.46},{"s":20,"x":-55,"y":-0.29},
{"s":2,"x":-54,"y":-1.15},{"s":5,"x":-54,"y":-0.82},{"s":10,"x":-54,"y":-0.45},{"s":20,"x":-54,"y":-0.29},
{"s":2,"x":-52,"y":-1.70},{"s":5,"x":-52,"y":-0.66},{"s":10,"x":-52,"y":-0.37},{"s":20,"x":-52,"y":-0.22},
{"s":2,"x":-50,"y":-1.65},{"s":5,"x":-50,"y":-0.68},{"s":10,"x":-50,"y":-0.38},{"s":20,"x":-50,"y":-0.23},
{"s":2,"x":-48,"y":-1.04},{"s":5,"x":-48,"y":-0.70},{"s":10,"x":-48,"y":-0.39},{"s":20,"x":-48,"y":-0.24},
{"s":2,"x":-47,"y":-1.20},{"s":5,"x":-47,"y":-0.69},{"s":10,"x":-47,"y":-0.38},{"s":20,"x":-47,"y":-0.24},
{"s":2,"x":-45,"y":-1.42},{"s":5,"x":-45,"y":-0.72},{"s":10,"x":-45,"y":-0.40},{"s":20,"x":-45,"y":-0.25},
{"s":2,"x":-44,"y":-1.64},{"s":5,"x":-44,"y":-0.71},{"s":10,"x":-44,"y":-0.39},{"s":20,"x":-44,"y":-0.25},
{"s":2,"x":-42,"y":-1.14},{"s":5,"x":-42,"y":-0.59},{"s":10,"x":-42,"y":-0.33},{"s":20,"x":-42,"y":-0.20},
{"s":2,"x":-41,"y":-0.95},{"s":5,"x":-41,"y":-0.55},{"s":10,"x":-41,"y":-0.31},{"s":20,"x":-41,"y":-0.19},
{"s":2,"x":-39,"y":-1.45},{"s":5,"x":-39,"y":-0.50},{"s":10,"x":-39,"y":-0.28},{"s":20,"x":-39,"y":-0.17},
{"s":2,"x":-38,"y":-1.19},{"s":5,"x":-38,"y":-0.59},{"s":10,"x":-38,"y":-0.33},{"s":20,"x":-38,"y":-0.20},
{"s":2,"x":-36,"y":-0.74},{"s":5,"x":-36,"y":-0.63},{"s":10,"x":-36,"y":-0.35},{"s":20,"x":-36,"y":-0.22},
{"s":2,"x":-35,"y":-0.69},{"s":5,"x":-35,"y":-0.52},{"s":10,"x":-35,"y":-0.29},{"s":20,"x":-35,"y":-0.18},
{"s":2,"x":-33,"y":-1.02},{"s":5,"x":-33,"y":-0.52},{"s":10,"x":-33,"y":-0.29},{"s":20,"x":-33,"y":-0.18},
{"s":2,"x":-32,"y":-1.16},{"s":5,"x":-32,"y":-0.55},{"s":10,"x":-32,"y":-0.31},{"s":20,"x":-32,"y":-0.19},
{"s":2,"x":-30,"y":-1.10},{"s":5,"x":-30,"y":-0.42},{"s":10,"x":-30,"y":-0.24},{"s":20,"x":-30,"y":-0.15},
{"s":2,"x":-29,"y":-0.80},{"s":5,"x":-29,"y":-0.40},{"s":10,"x":-29,"y":-0.23},{"s":20,"x":-29,"y":-0.14},
{"s":2,"x":-27,"y":-0.72},{"s":5,"x":-27,"y":-0.48},{"s":10,"x":-27,"y":-0.27},{"s":20,"x":-27,"y":-0.17},
{"s":2,"x":-26,"y":-0.89},{"s":5,"x":-26,"y":-0.44},{"s":10,"x":-26,"y":-0.24},{"s":20,"x":-26,"y":-0.15},
{"s":2,"x":-24,"y":-0.48},{"s":5,"x":-24,"y":-0.38},{"s":10,"x":-24,"y":-0.21},{"s":20,"x":-24,"y":-0.13},
{"s":2,"x":-23,"y":-0.56},{"s":5,"x":-23,"y":-0.35},{"s":10,"x":-23,"y":-0.20},{"s":20,"x":-23,"y":-0.12},
{"s":2,"x":-21,"y":-0.76},{"s":5,"x":-21,"y":-0.37},{"s":10,"x":-21,"y":-0.20},{"s":20,"x":-21,"y":-0.13},
{"s":2,"x":-20,"y":-0.82},{"s":5,"x":-20,"y":-0.33},{"s":10,"x":-20,"y":-0.19},{"s":20,"x":-20,"y":-0.12},
{"s":2,"x":-18,"y":-0.57},{"s":5,"x":-18,"y":-0.27},{"s":10,"x":-18,"y":-0.15},{"s":20,"x":-18,"y":-0.09},
{"s":2,"x":-17,"y":-0.54},{"s":5,"x":-17,"y":-0.32},{"s":10,"x":-17,"y":-0.17},{"s":20,"x":-17,"y":-0.11},
{"s":2,"x":-15,"y":-0.41},{"s":5,"x":-15,"y":-0.26},{"s":10,"x":-15,"y":-0.15},{"s":20,"x":-15,"y":-0.09},
{"s":2,"x":-14,"y":-0.40},{"s":5,"x":-14,"y":-0.22},{"s":10,"x":-14,"y":-0.13},{"s":20,"x":-14,"y":-0.08},
{"s":2,"x":-12,"y":-0.52},{"s":5,"x":-12,"y":-0.24},{"s":10,"x":-12,"y":-0.13},{"s":20,"x":-12,"y":-0.08},
{"s":2,"x":-11,"y":-0.46},{"s":5,"x":-11,"y":-0.21},{"s":10,"x":-11,"y":-0.11},{"s":20,"x":-11,"y":-0.07},
{"s":2,"x":-9,"y":-0.30},{"s":5,"x":-9,"y":-0.16},{"s":10,"x":-9,"y":-0.09},{"s":20,"x":-9,"y":-0.05},
{"s":2,"x":-8,"y":-0.31},{"s":5,"x":-8,"y":-0.15},{"s":10,"x":-8,"y":-0.08},{"s":20,"x":-8,"y":-0.05},
{"s":2,"x":-6,"y":-0.25},{"s":5,"x":-6,"y":-0.12},{"s":10,"x":-6,"y":-0.07},{"s":20,"x":-6,"y":-0.04},
{"s":2,"x":-5,"y":-0.18},{"s":5,"x":-5,"y":-0.11},{"s":10,"x":-5,"y":-0.06},{"s":20,"x":-5,"y":-0.04},
{"s":2,"x":-4,"y":-0.12},{"s":5,"x":-4,"y":-0.08},{"s":10,"x":-4,"y":-0.04},{"s":20,"x":-4,"y":-0.03},
{"s":2,"x":-3,"y":-0.14},{"s":5,"x":-3,"y":-0.07},{"s":10,"x":-3,"y":-0.04},{"s":20,"x":-3,"y":-0.02},
{"s":2,"x":-1.5,"y":-0.08},{"s":5,"x":-1.5,"y":-0.04},{"s":10,"x":-1.5,"y":-0.02},{"s":20,"x":-1.5,"y":-0.01},
{"s":2,"x":1.5,"y":0.07},{"s":5,"x":1.5,"y":0.04},{"s":10,"x":1.5,"y":0.02},{"s":20,"x":1.5,"y":0.01},
{"s":2,"x":3,"y":0.14},{"s":5,"x":3,"y":0.07},{"s":10,"x":3,"y":0.04},{"s":20,"x":3,"y":0.02},
{"s":2,"x":4.5,"y":0.23},{"s":5,"x":4.5,"y":0.09},{"s":10,"x":4.5,"y":0.05},{"s":20,"x":4.5,"y":0.03},
{"s":2,"x":6,"y":0.31},{"s":5,"x":6,"y":0.12},{"s":10,"x":6,"y":0.06},{"s":20,"x":6,"y":0.04},
{"s":2,"x":7.5,"y":0.31},{"s":5,"x":7.5,"y":0.17},{"s":10,"x":7.5,"y":0.09},{"s":20,"x":7.5,"y":0.06},
{"s":2,"x":9,"y":0.33},{"s":5,"x":9,"y":0.19},{"s":10,"x":9,"y":0.10},{"s":20,"x":9,"y":0.06},
{"s":2,"x":10.5,"y":0.54},{"s":5,"x":10.5,"y":0.20},{"s":10,"x":10.5,"y":0.10},{"s":20,"x":10.5,"y":0.06},
{"s":2,"x":12,"y":0.59},{"s":5,"x":12,"y":0.23},{"s":10,"x":12,"y":0.12},{"s":20,"x":12,"y":0.07},
{"s":2,"x":13.5,"y":0.40},{"s":5,"x":13.5,"y":0.27},{"s":10,"x":13.5,"y":0.14},{"s":20,"x":13.5,"y":0.09},
{"s":2,"x":15,"y":0.47},{"s":5,"x":15,"y":0.31},{"s":10,"x":15,"y":0.16},{"s":20,"x":15,"y":0.10},
{"s":2,"x":16.5,"y":0.66},{"s":5,"x":16.5,"y":0.27},{"s":10,"x":16.5,"y":0.14},{"s":20,"x":16.5,"y":0.08},
{"s":2,"x":18,"y":0.71},{"s":5,"x":18,"y":0.29},{"s":10,"x":18,"y":0.15},{"s":20,"x":18,"y":0.09},
{"s":2,"x":19.5,"y":0.87},{"s":5,"x":19.5,"y":0.35},{"s":10,"x":19.5,"y":0.18},{"s":20,"x":19.5,"y":0.11},
{"s":2,"x":21,"y":1.00},{"s":5,"x":21,"y":0.38},{"s":10,"x":21,"y":0.20},{"s":20,"x":21,"y":0.12},
{"s":2,"x":22.5,"y":0.74},{"s":5,"x":22.5,"y":0.43},{"s":10,"x":22.5,"y":0.22},{"s":20,"x":22.5,"y":0.14},
{"s":2,"x":24,"y":0.80},{"s":5,"x":24,"y":0.39},{"s":10,"x":24,"y":0.20},{"s":20,"x":24,"y":0.13},
{"s":2,"x":25.5,"y":0.63},{"s":5,"x":25.5,"y":0.41},{"s":10,"x":25.5,"y":0.22},{"s":20,"x":25.5,"y":0.13},
{"s":2,"x":27,"y":1.09},{"s":5,"x":27,"y":0.50},{"s":10,"x":27,"y":0.26},{"s":20,"x":27,"y":0.16},
{"s":2,"x":28.5,"y":1.14},{"s":5,"x":28.5,"y":0.41},{"s":10,"x":28.5,"y":0.22},{"s":20,"x":28.5,"y":0.13},
{"s":2,"x":30,"y":0.78},{"s":5,"x":30,"y":0.50},{"s":10,"x":30,"y":0.26},{"s":20,"x":30,"y":0.16},
{"s":2,"x":31.5,"y":1.08},{"s":5,"x":31.5,"y":0.60},{"s":10,"x":31.5,"y":0.31},{"s":20,"x":31.5,"y":0.20},
{"s":2,"x":33,"y":1.39},{"s":5,"x":33,"y":0.50},{"s":10,"x":33,"y":0.26},{"s":20,"x":33,"y":0.16},
{"s":2,"x":34.5,"y":0.99},{"s":5,"x":34.5,"y":0.58},{"s":10,"x":34.5,"y":0.30},{"s":20,"x":34.5,"y":0.19},
{"s":2,"x":36,"y":1.21},{"s":5,"x":36,"y":0.62},{"s":10,"x":36,"y":0.32},{"s":20,"x":36,"y":0.20},
{"s":2,"x":37.5,"y":1.55},{"s":5,"x":37.5,"y":0.56},{"s":10,"x":37.5,"y":0.29},{"s":20,"x":37.5,"y":0.18},
{"s":2,"x":39,"y":1.10},{"s":5,"x":39,"y":0.61},{"s":10,"x":39,"y":0.32},{"s":20,"x":39,"y":0.20},
{"s":2,"x":40.5,"y":1.25},{"s":5,"x":40.5,"y":0.72},{"s":10,"x":40.5,"y":0.37},{"s":20,"x":40.5,"y":0.24},
{"s":2,"x":42,"y":1.67},{"s":5,"x":42,"y":0.75},{"s":10,"x":42,"y":0.39},{"s":20,"x":42,"y":0.24},
{"s":2,"x":43.5,"y":1.54},{"s":5,"x":43.5,"y":0.67},{"s":10,"x":43.5,"y":0.35},{"s":20,"x":43.5,"y":0.21},
{"s":2,"x":45,"y":1.55},{"s":5,"x":45,"y":0.63},{"s":10,"x":45,"y":0.33},{"s":20,"x":45,"y":0.20},
{"s":2,"x":46.5,"y":1.18},{"s":5,"x":46.5,"y":0.77},{"s":10,"x":46.5,"y":0.40},{"s":20,"x":46.5,"y":0.25},
{"s":2,"x":48,"y":1.12},{"s":5,"x":48,"y":0.77},{"s":10,"x":48,"y":0.40},{"s":20,"x":48,"y":0.25},
{"s":2,"x":50,"y":1.89},{"s":5,"x":50,"y":0.69},{"s":10,"x":50,"y":0.36},{"s":20,"x":50,"y":0.22},
{"s":2,"x":52,"y":2.11},{"s":5,"x":52,"y":0.76},{"s":10,"x":52,"y":0.39},{"s":20,"x":52,"y":0.24},
{"s":2,"x":54,"y":1.40},{"s":5,"x":54,"y":0.83},{"s":10,"x":54,"y":0.43},{"s":20,"x":54,"y":0.27},
{"s":2,"x":56,"y":1.65},{"s":5,"x":56,"y":0.93},{"s":10,"x":56,"y":0.48},{"s":20,"x":56,"y":0.30},
{"s":2,"x":58,"y":2.04},{"s":5,"x":58,"y":0.96},{"s":10,"x":58,"y":0.50},{"s":20,"x":58,"y":0.31},
{"s":2,"x":60,"y":2.10},{"s":5,"x":60,"y":0.91},{"s":10,"x":60,"y":0.47},{"s":20,"x":60,"y":0.29},
{"s":2,"x":62,"y":1.86},{"s":5,"x":62,"y":0.88},{"s":10,"x":62,"y":0.46},{"s":20,"x":62,"y":0.28},
{"s":2,"x":64,"y":1.55},{"s":5,"x":64,"y":0.88},{"s":10,"x":64,"y":0.46},{"s":20,"x":64,"y":0.28},
{"s":2,"x":68,"y":2.45},{"s":5,"x":68,"y":1.07},{"s":10,"x":68,"y":0.55},{"s":20,"x":68,"y":0.35},
{"s":2,"x":70,"y":2.71},{"s":5,"x":70,"y":0.89},{"s":10,"x":70,"y":0.46},{"s":20,"x":70,"y":0.28},
{"s":2,"x":72,"y":2.18},{"s":5,"x":72,"y":1.03},{"s":10,"x":72,"y":0.53},{"s":20,"x":72,"y":0.33},
{"s":2,"x":74,"y":1.69},{"s":5,"x":74,"y":1.24},{"s":10,"x":74,"y":0.64},{"s":20,"x":74,"y":0.41},
{"s":2,"x":76,"y":2.00},{"s":5,"x":76,"y":1.24},{"s":10,"x":76,"y":0.64},{"s":20,"x":76,"y":0.40},
{"s":2,"x":78,"y":2.48},{"s":5,"x":78,"y":1.17},{"s":10,"x":78,"y":0.60},{"s":20,"x":78,"y":0.38},
{"s":2,"x":80,"y":2.97},{"s":5,"x":80,"y":1.03},{"s":10,"x":80,"y":0.54},{"s":20,"x":80,"y":0.32},
{"s":2,"x":82,"y":2.96},{"s":5,"x":82,"y":1.09},{"s":10,"x":82,"y":0.56},{"s":20,"x":82,"y":0.34},
{"s":2,"x":84,"y":2.03},{"s":5,"x":84,"y":1.24},{"s":10,"x":84,"y":0.64},{"s":20,"x":84,"y":0.40},
{"s":2,"x":86,"y":2.30},{"s":5,"x":86,"y":1.38},{"s":10,"x":86,"y":0.71},{"s":20,"x":86,"y":0.45},
{"s":2,"x":88,"y":2.75},{"s":5,"x":88,"y":1.19},{"s":10,"x":88,"y":0.62},{"s":20,"x":88,"y":0.38},
{"s":2,"x":90,"y":1.83},{"s":5,"x":90,"y":1.25},{"s":10,"x":90,"y":0.65},{"s":20,"x":90,"y":0.40},
{"s":2,"x":92,"y":2.52},{"s":5,"x":92,"y":1.42},{"s":10,"x":92,"y":0.73},{"s":20,"x":92,"y":0.46},
{"s":2,"x":95,"y":3.18},{"s":5,"x":95,"y":1.42},{"s":10,"x":95,"y":0.73},{"s":20,"x":95,"y":0.46},
{"s":2,"x":97,"y":2.13},{"s":5,"x":97,"y":1.37},{"s":10,"x":97,"y":0.71},{"s":20,"x":97,"y":0.44},
{"s":2,"x":100,"y":2.88},{"s":5,"x":100,"y":1.24},{"s":10,"x":100,"y":0.65},{"s":20,"x":100,"y":0.39},
{"s":2,"x":102,"y":3.29},{"s":5,"x":102,"y":1.31},{"s":10,"x":102,"y":0.68},{"s":20,"x":102,"y":0.41},
{"s":2,"x":105,"y":2.55},{"s":5,"x":105,"y":1.46},{"s":10,"x":105,"y":0.76},{"s":20,"x":105,"y":0.47},
{"s":2,"x":110,"y":3.20},{"s":5,"x":110,"y":1.65},{"s":10,"x":110,"y":0.85},{"s":20,"x":110,"y":0.54},
{"s":2,"x":94,"y":1.98},{"s":5,"x":94,"y":1.35},{"s":10,"x":94,"y":0.80},{"s":20,"x":94,"y":0.46},
{"s":2,"x":66,"y":2.32},{"s":5,"x":66,"y":1.25},{"s":10,"x":66,"y":0.70},{"s":20,"x":66,"y":0.38},
{"s":2,"x":81,"y":1.82},{"s":5,"x":81,"y":1.30},{"s":10,"x":81,"y":0.75},{"s":20,"x":81,"y":0.42},
{"s":2,"x":88.5,"y":2.58},{"s":5,"x":88.5,"y":1.45},{"s":10,"x":88.5,"y":0.80},{"s":20,"x":88.5,"y":0.46},
{"s":2,"x":93,"y":2.32},{"s":5,"x":93,"y":1.50},{"s":10,"x":93,"y":0.85},{"s":20,"x":93,"y":0.48},
{"s":2,"x":95.5,"y":3.10},{"s":5,"x":95.5,"y":1.55},{"s":10,"x":95.5,"y":0.85},{"s":20,"x":95.5,"y":0.50},
{"s":2,"x":106,"y":3.00},{"s":5,"x":106,"y":1.60},{"s":10,"x":106,"y":0.90},{"s":20,"x":106,"y":0.52},
{"s":2,"x":116,"y":3.49},{"s":5,"x":116,"y":1.70},{"s":10,"x":116,"y":0.95},{"s":20,"x":116,"y":0.55},
{"s":2,"x":119,"y":2.73},{"s":5,"x":119,"y":1.67},{"s":10,"x":119,"y":0.95},{"s":20,"x":119,"y":0.58},
{"s":2,"x":123,"y":2.67},{"s":5,"x":123,"y":1.50},{"s":10,"x":123,"y":0.90},{"s":20,"x":123,"y":0.55},
{"s":2,"x":142,"y":3.17},{"s":5,"x":142,"y":1.78},{"s":10,"x":142,"y":1.05},{"s":20,"x":142,"y":0.60},
{"s":2,"x":146,"y":2.65},{"s":5,"x":146,"y":1.62},{"s":10,"x":146,"y":1.00},{"s":20,"x":146,"y":0.62},
{"s":2,"x":165,"y":4.44},{"s":5,"x":165,"y":2.29},{"s":10,"x":165,"y":1.26},{"s":20,"x":165,"y":0.72},
{"s":2,"x":171,"y":2.79},{"s":5,"x":171,"y":1.81},{"s":10,"x":171,"y":1.20},{"s":20,"x":171,"y":0.68},
{"s":2,"x":173,"y":4.19},{"s":5,"x":173,"y":2.29},{"s":10,"x":173,"y":1.26},{"s":20,"x":173,"y":0.70},
{"s":2,"x":182,"y":1.78},{"s":5,"x":182,"y":1.32},{"s":10,"x":182,"y":0.93},{"s":20,"x":182,"y":0.58},
{"s":2,"x":213,"y":3.09},{"s":5,"x":213,"y":2.05},{"s":10,"x":213,"y":1.33},{"s":20,"x":213,"y":0.72},
{"s":2,"x":218,"y":3.44},{"s":5,"x":218,"y":2.22},{"s":10,"x":218,"y":1.37},{"s":20,"x":218,"y":0.83},
{"s":2,"x":248,"y":3.61},{"s":5,"x":248,"y":2.38},{"s":10,"x":248,"y":1.52},{"s":20,"x":248,"y":0.89},
{"s":2,"x":260,"y":4.03},{"s":5,"x":260,"y":2.60},{"s":10,"x":260,"y":1.66},{"s":20,"x":260,"y":0.97},
{"s":2,"x":277,"y":3.96},{"s":5,"x":277,"y":2.62},{"s":10,"x":277,"y":1.67},{"s":20,"x":277,"y":0.97},
{"s":2,"x":392,"y":6.51},{"s":5,"x":392,"y":4.09},{"s":10,"x":392,"y":2.52},{"s":20,"x":392,"y":1.43}
]
},
"vconcat":[
{
"width":903,"height":535,
"encoding":{
"x":{"field":"x","type":"quantitative","scale":{"domain":[-600,600],"nice":false,"zero":false},"axis":{"values":[-600,-400,-200,0,200,400,600],"title":"Heat Export Rate (W/m²)","grid":false,"labelExpr":"'' + datum.value"}},
"y":{"field":"y","type":"quantitative","scale":{"domain":[-4,4],"nice":false,"zero":false},"axis":{"values":[-4,-3,-2,-1,0,1,2,3,4],"title":"ΔT (C)","grid":true,"labelExpr":"'' + datum.value"}}
},
"layer":[
{"data":{"name":"avg"},
"mark":{"type":"point","opacity":1,"strokeWidth":1.5},
"encoding":{
"shape":{"field":"s","type":"ordinal","title":"Flow","scale":{"domain":[2,5,10,20],"range":["diamond","square","triangle-up","M-1,-1L1,1M1,-1L-1,1"]},"legend":{"orient":"bottom-right","offset":38,"title":null,"labelExpr":"datum.label + ' cfs'","labelFontSize":29}},
"fill":{"field":"s","type":"ordinal","title":"Flow","scale":{"domain":[2,5,10,20],"range":["#000080","#ff00ff","transparent","transparent"]}},
"stroke":{"field":"s","type":"ordinal","title":"Flow","scale":{"domain":[2,5,10,20],"range":["transparent","transparent","#000000","#000000"]}},
"size":{"field":"s","type":"quantitative","scale":{"type":"threshold","domain":[3,7,15],"range":[200,120,150,144]},"legend":null},
"order":{"field":"s","type":"quantitative"}
}},
{"data":{"values":[{"x":0,"y":3.9,"y2":-3.73}]},
"mark":{"type":"rule","color":"#000","strokeDash":[6,3],"strokeWidth":1.2},
"encoding":{"y2":{"field":"y2"}}},
{"data":{"values":[{"x":-549.5,"y":3.21,"t":"Event Average"}]},
"mark":{"type":"text","align":"left","baseline":"alphabetic","fontSize":32,"font":"Liberation Sans","color":"#000"},
"encoding":{"text":{"field":"t"}}}
]
},
{
"width":911,"height":552,
"encoding":{
"x":{"field":"x","type":"quantitative","scale":{"domain":[-600,600],"nice":false,"zero":false},"axis":{"values":[-600,-400,-200,0,200,400,600],"title":"Heat Export Rate (W/m²)","grid":false,"labelExpr":"'' + datum.value"}},
"y":{"field":"y","type":"quantitative","scale":{"domain":[-10,8],"nice":false,"zero":false},"axis":{"values":[-10,-8,-6,-4,-2,0,2,4,6,8],"title":"ΔT (C)","grid":true,"labelExpr":"'' + datum.value"}}
},
"layer":[
{"data":{"name":"peak"},
"mark":{"type":"point","opacity":1,"strokeWidth":1.5},
"encoding":{
"shape":{"field":"s","type":"ordinal","title":"Flow","scale":{"domain":[2,5,10,20],"range":["diamond","square","triangle-up","M-1,-1L1,1M1,-1L-1,1"]},"legend":{"orient":"bottom-right","offset":38,"title":null,"labelExpr":"datum.label + ' cfs'","labelFontSize":30}},
"fill":{"field":"s","type":"ordinal","title":"Flow","scale":{"domain":[2,5,10,20],"range":["#000080","#ff00ff","transparent","transparent"]}},
"stroke":{"field":"s","type":"ordinal","title":"Flow","scale":{"domain":[2,5,10,20],"range":["transparent","transparent","#000000","#000000"]}},
"size":{"field":"s","type":"quantitative","scale":{"type":"threshold","domain":[3,7,15],"range":[200,120,150,144]},"legend":null},
"order":{"field":"s","type":"quantitative"}
}},
{"data":{"values":[{"x":0,"y":7.45,"y2":-9.74}]},
"mark":{"type":"rule","color":"#000","strokeDash":[6,3],"strokeWidth":1.2},
"encoding":{"y2":{"field":"y2"}}},
{"data":{"values":[{"x":-550.3,"y":6.22,"t":"Event Peak"}]},
"mark":{"type":"text","align":"left","baseline":"alphabetic","fontSize":32,"font":"Liberation Sans","color":"#000"},
"encoding":{"text":{"field":"t"}}}
]
}
],
"resolve":{"scale":{"shape":"independent","fill":"independent","stroke":"independent","size":"independent"}}
}
